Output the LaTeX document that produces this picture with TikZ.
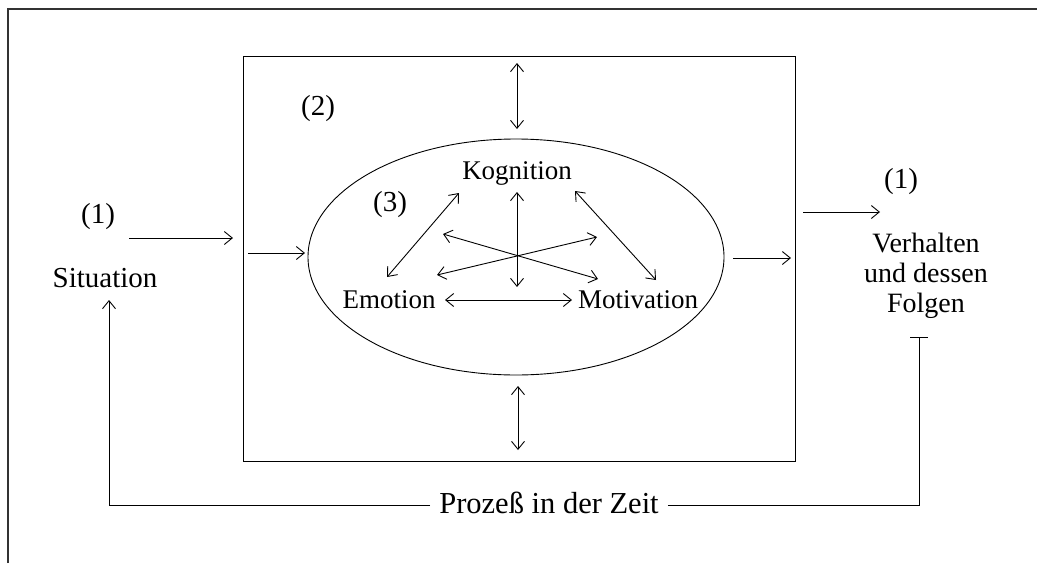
\documentclass[tikz,border=0pt]{standalone}
\usepackage{fontspec}
\setmainfont{Liberation Serif}
\usetikzlibrary{arrows.meta,shapes.geometric}
\begin{document}
\begin{tikzpicture}[x=1pt,y=-1pt,
  lbl/.style={font=\fontsize{27}{30}\selectfont, inner sep=0pt, anchor=base},
  biglbl/.style={font=\fontsize{29}{30}\selectfont, inner sep=0pt, anchor=base},
  arr/.style={line width=0.9pt, -{Straight Barb[length=8pt,width=13pt]}},
  darr/.style={line width=0.9pt, {Straight Barb[length=8pt,width=13pt]}-{Straight Barb[length=8pt,width=13pt]}},
  frame/.style={line width=0.9pt}]
\useasboundingbox (0,0) rectangle (1037,563);

% outer frame (top and left edges)
\draw[line width=1.6pt, black!80] (8,563) -- (8,9) -- (1037,9);

% inner box and ellipse
\draw[frame] (243,56) rectangle (795,461);
\node[draw, ellipse, line width=0.9pt, minimum width=416pt, minimum height=236pt, inner sep=0pt] (ell) at (516,257) {};

% labels
\node[biglbl] (n2) at (318,115) {(2)};
\node[biglbl] (n3) at (390,211) {(3)};
\node[lbl] (kog) at (517,179) {Kognition};
\node[lbl] (emo) at (389,308) {Emotion};
\node[lbl] (mot) at (638,308) {Motivation};
\node[biglbl] (n1l) at (98,223) {(1)};
\node[biglbl] (sit) at (105,287) {Situation};
\node[biglbl] (n1r) at (901,188) {(1)};
\node[lbl, font=\fontsize{28}{30}\selectfont, align=center] (verh) at (926,312) {Verhalten\\und dessen\\Folgen};
\node[biglbl, font=\fontsize{30.5}{32}\selectfont, inner xsep=9pt] (proz) at (549,513) {Prozeß in der Zeit};

% arrow ends
\coordinate (a1s) at (129,238); \coordinate (a1e) at (233,238);
\coordinate (a2s) at (248,253); \coordinate (a2e) at (305,253);
\coordinate (a3s) at (733,258); \coordinate (a3e) at (791,258);
\coordinate (a4s) at (803,212); \coordinate (a4e) at (880,212);
\coordinate (ts) at (517,63);  \coordinate (te) at (517,129);
\coordinate (bs) at (518,386); \coordinate (be) at (518,450);

% input / output arrows
\draw[arr] (a1s) -- (a1e);
\draw[arr] (a2s) -- (a2e);
\draw[arr] (a3s) -- (a3e);
\draw[arr] (a4s) -- (a4e);
\draw[darr] (ts) -- (te);
\draw[darr] (bs) -- (be);

% interactions between Kognition, Emotion and Motivation
\coordinate (ek1) at (387,277); \coordinate (ek2) at (459,193);
\coordinate (km1) at (575,191); \coordinate (km2) at (656,280);
\coordinate (v1) at (517,192);  \coordinate (v2) at (517,287);
\coordinate (c1a) at (443,234); \coordinate (c1b) at (598,279);
\coordinate (c2a) at (437,275); \coordinate (c2b) at (597,237);
\coordinate (h1) at (445,300);  \coordinate (h2) at (572,300);
\draw[darr] (ek1) -- (ek2);
\draw[darr] (km1) -- (km2);
\draw[darr] (v1) -- (v2);
\draw[darr] (c1a) -- (c1b);
\draw[darr] (c2a) -- (c2b);
\draw[darr] (h1) -- (h2);

% feedback loop over time
\coordinate (sitin) at (109,300);
\coordinate (lc) at (109,505);
\coordinate (rc) at (919,505);
\coordinate (fout) at (919,337);
\draw[arr] (proz.west |- 0,505) -- (lc) -- (sitin);
\draw[frame, -{Bar[width=18pt]}] (proz.east |- 0,505) -- (rc) -- (fout);
\end{tikzpicture}
\end{document}
